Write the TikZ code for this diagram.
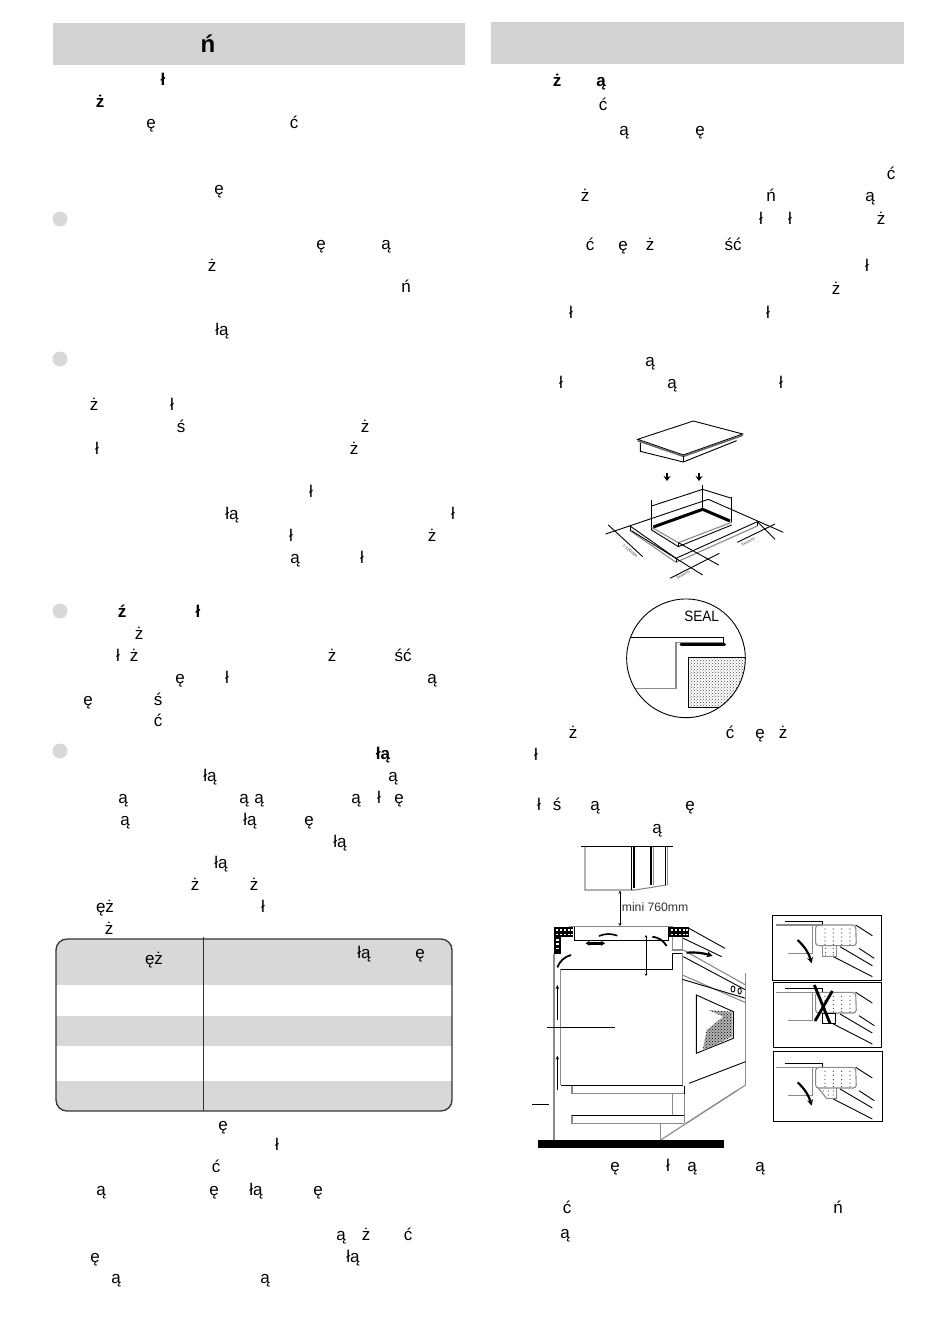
\documentclass[tikz,border=0pt]{standalone}
\usepackage{xcolor}
\usepackage{fontspec}
\setmainfont{Liberation Sans}
\usetikzlibrary{patterns,arrows.meta}
\definecolor{headgray}{HTML}{D2D2D2}
\definecolor{bandgray}{HTML}{D8D8D8}
\definecolor{wallgray}{HTML}{8A8A8A}
\tikzset{
	ch/.style={anchor=base,inner sep=0pt,yshift=-1.3pt,font=\fontsize{17}{20}\selectfont},
	chb/.style={ch,font=\fontsize{17}{20}\selectfont\bfseries},
	head/.style={fill=headgray,draw=none},
	bullet/.style={circle,fill=bandgray,draw=none,minimum size=15pt,inner sep=0pt},
	band/.style={fill=bandgray,draw=none},
	ln/.style={line width=0.9pt,black},
	gln/.style={line width=1.1pt,wallgray},
	flow/.style={line width=2.2pt,black,-{Stealth[length=6pt,width=6pt]}},
	tiny/.style={inner sep=0pt,font=\fontsize{4.5}{5}\selectfont,text=black!70}
}
\newcommand{\cornerview}{%
	\draw[ln] (60,48) -- (172,48) -- (172,60);
	\draw[gln] (32,60) -- (172,60);
	\draw[gln] (142,60) -- (142,145) -- (70,145);
	\draw[gln,rounded corners=3pt] (152,60) -- (272,60) -- (274,122) -- (152,122) -- cycle;
	\foreach \dx in {180,205,230,255}
		\foreach \dy in {72,84,96,108,118}
			\fill[black!75] (\dx,\dy) circle (1.8);
	\draw[ln] (272,60) -- (322,92);
	\draw[ln] (282,130) -- (328,160);
	\draw[ln] (225,125) -- (322,182);
	\draw[ln] (205,155) -- (322,215);
}
\begin{document}
\begin{tikzpicture}[x=1pt,y=-1pt]
	\useasboundingbox (0,0) rectangle (950,1319);
	\fill[white] (0,0) rectangle (950,1319);

	% header bars
	\fill[head] (53,23) rectangle (465,65);
	\fill[head] (491,22) rectangle (904,64);
	\node[chb,font=\fontsize{24}{26}\selectfont\bfseries] (title) at (208,51) {ń};

	% bullets
	\node[bullet] (b1) at (60,219) {};
	\node[bullet] (b2) at (60,359) {};
	\node[bullet] (b3) at (60,611) {};
	\node[bullet] (b4) at (60,751) {};

	% left column
	\node[chb] (la1) at (163,84) {ł};
	\node[chb] (la2) at (100,106) {ż};
	\node[ch] (la3) at (151,127) {ę};
	\node[ch] (la4) at (294,127) {ć};
	\node[ch] (la5) at (219,193) {ę};
	\node[ch] (la6) at (321,248) {ę};
	\node[ch] (la7) at (386,248) {ą};
	\node[ch] (la8) at (212,270) {ż};
	\node[ch] (la9) at (406,291) {ń};
	\node[ch] (la10) at (222,334) {łą};
	\node[ch] (lb1) at (94,409) {ż};
	\node[ch] (lb2) at (172,409) {ł};
	\node[ch] (lb3) at (181,431) {ś};
	\node[ch] (lb4) at (365,431) {ż};
	\node[ch] (lb5) at (97,453) {ł};
	\node[ch] (lb6) at (354,453) {ż};
	\node[ch] (lb7) at (311,496) {ł};
	\node[ch] (lb8) at (232,518) {łą};
	\node[ch] (lb9) at (453,518) {ł};
	\node[ch] (lb10) at (291,540) {ł};
	\node[ch] (lb11) at (432,540) {ż};
	\node[ch] (lb12) at (295,562) {ą};
	\node[ch] (lb13) at (362,562) {ł};
	\node[chb] (lc1) at (122,616) {ź};
	\node[chb] (lc2) at (198,616) {ł};
	\node[ch] (lc3) at (139,638) {ż};
	\node[ch] (lc4) at (118,660) {ł};
	\node[ch] (lc5) at (134,660) {ż};
	\node[ch] (lc6) at (332,660) {ż};
	\node[ch] (lc7) at (403,660) {ść};
	\node[ch] (lc8) at (180,682) {ę};
	\node[ch] (lc9) at (227,682) {ł};
	\node[ch] (lc10) at (432,682) {ą};
	\node[ch] (lc11) at (88,704) {ę};
	\node[ch] (lc12) at (158,704) {ś};
	\node[ch] (lc13) at (158,725) {ć};
	\node[chb] (ld1) at (383,758) {łą};
	\node[ch] (ld2) at (210,780) {łą};
	\node[ch] (ld3) at (393,780) {ą};
	\node[ch] (ld4) at (123,802) {ą};
	\node[ch] (ld5) at (244,802) {ą};
	\node[ch] (ld6) at (259,802) {ą};
	\node[ch] (ld7) at (356,802) {ą};
	\node[ch] (ld8) at (379,802) {ł};
	\node[ch] (ld9) at (399,802) {ę};
	\node[ch] (ld10) at (125,824) {ą};
	\node[ch] (ld11) at (250,824) {łą};
	\node[ch] (ld12) at (309,824) {ę};
	\node[ch] (ld13) at (340,846) {łą};
	\node[ch] (ld14) at (221,867) {łą};
	\node[ch] (ld15) at (195,889) {ż};
	\node[ch] (ld16) at (254,889) {ż};
	\node[ch] (ld17) at (105,911) {ęż};
	\node[ch] (ld18) at (263,911) {ł};
	\node[ch] (ld19) at (109,933) {ż};

	% table
	\begin{scope}
		\clip[rounded corners=11pt] (56,939) rectangle (452,1111);
		\fill[band] (56,939) rectangle (452,985);
		\fill[band] (56,1016) rectangle (452,1046);
		\fill[band] (56,1081) rectangle (452,1111);
	\end{scope}
	\draw[line width=1.3pt,rounded corners=11pt,black!80] (56,939) rectangle (452,1111);
	\coordinate (tabtop) at (203,937);
	\coordinate (tabbot) at (203,1111);
	\draw[line width=0.8pt,black!80] (tabtop) -- (tabbot);
	\node[ch] (ta1) at (154,963) {ęż};
	\node[ch] (ta2) at (364,957) {łą};
	\node[ch] (ta3) at (420,957) {ę};

	\node[ch] (le1) at (223,1129) {ę};
	\node[ch] (le2) at (277,1149) {ł};
	\node[ch] (le3) at (216,1171) {ć};
	\node[ch] (le4) at (101,1194) {ą};
	\node[ch] (le5) at (214,1194) {ę};
	\node[ch] (le6) at (256,1194) {łą};
	\node[ch] (le7) at (318,1194) {ę};
	\node[ch] (le8) at (341,1239) {ą};
	\node[ch] (le9) at (366,1239) {ż};
	\node[ch] (le10) at (408,1239) {ć};
	\node[ch] (le11) at (95,1261) {ę};
	\node[ch] (le12) at (353,1261) {łą};
	\node[ch] (le13) at (116,1282) {ą};
	\node[ch] (le14) at (265,1282) {ą};

	% right column
	\node[chb] (ra1) at (557,85) {ż};
	\node[chb] (ra2) at (601,85) {ą};
	\node[ch] (ra3) at (603,109) {ć};
	\node[ch] (ra4) at (624,134) {ą};
	\node[ch] (ra5) at (700,134) {ę};
	\node[ch] (ra6) at (891,178) {ć};
	\node[ch] (ra7) at (585,200) {ż};
	\node[ch] (ra8) at (771,200) {ń};
	\node[ch] (ra9) at (870,200) {ą};
	\node[ch] (ra10) at (761,223) {ł};
	\node[ch] (ra11) at (790,223) {ł};
	\node[ch] (ra12) at (881,223) {ż};
	\node[ch] (ra13) at (590,249) {ć};
	\node[ch] (ra14) at (623,249) {ę};
	\node[ch] (ra15) at (650,249) {ż};
	\node[ch] (ra16) at (733,249) {ść};
	\node[ch] (ra17) at (867,270) {ł};
	\node[ch] (ra18) at (836,293) {ż};
	\node[ch] (ra19) at (571,317) {ł};
	\node[ch] (ra20) at (768,317) {ł};
	\node[ch] (ra21) at (650,365) {ą};
	\node[ch] (ra22) at (561,387) {ł};
	\node[ch] (ra23) at (672,387) {ą};
	\node[ch] (ra24) at (781,387) {ł};
	\node[ch] (rb1) at (573,737) {ż};
	\node[ch] (rb2) at (730,737) {ć};
	\node[ch] (rb3) at (760,737) {ę};
	\node[ch] (rb4) at (783,737) {ż};
	\node[ch] (rb5) at (536,759) {ł};
	\node[ch] (rb6) at (539,809) {ł};
	\node[ch] (rb7) at (557,809) {ś};
	\node[ch] (rb8) at (595,809) {ą};
	\node[ch] (rb9) at (690,809) {ę};
	\node[ch] (rb10) at (657,832) {ą};
	\node[ch] (rc1) at (615,1170) {ę};
	\node[ch] (rc2) at (668,1170) {ł};
	\node[ch] (rc3) at (692,1170) {ą};
	\node[ch] (rc4) at (760,1170) {ą};
	\node[ch] (rc5) at (567,1212) {ć};
	\node[ch] (rc6) at (838,1212) {ń};
	\node[ch] (rc7) at (565,1237) {ą};

	% hob above the worktop, coordinates in thirds of a pixel
	\begin{scope}[shift={(560,410)},x=0.3333pt,y=-0.3333pt]
		\draw[ln,fill=white] (233,88) -- (400,33) -- (548,72) -- (370,135) -- cycle;
		\draw[line width=1.6pt,black!60] (233,92) -- (370,139) -- (548,76);
		\draw[ln] (241,98) -- (241,124) -- (370,156) -- (530,92);
		\draw[ln] (370,139) -- (370,156);
		\coordinate (a1) at (321,188);
		\coordinate (a2) at (321,213);
		\coordinate (a3) at (417,188);
		\coordinate (a4) at (417,213);
		\draw[line width=2.4pt,-{Stealth[length=5pt,width=7pt]}] (a1) -- (a2);
		\draw[line width=2.4pt,-{Stealth[length=5pt,width=7pt]}] (a3) -- (a4);
		\draw[ln] (137,372) -- (445,268) -- (670,367);
		\draw[ln] (210,348) -- (348,445) -- (592,335);
		\draw[gln] (210,362) -- (348,457) -- (592,348);
		\draw[ln] (210,348) -- (210,362);
		\draw[ln] (348,445) -- (348,457);
		\draw[ln] (592,335) -- (592,348);
		\draw[gln] (275,352) -- (355,398) -- (515,337);
		\draw[ln] (275,352) -- (275,360) -- (355,410) -- (515,345);
		\draw[ln] (355,398) -- (355,410);
		\draw[line width=3pt] (280,351) -- (428,298) -- (510,333);
		\draw[ln] (275,270) -- (275,352);
		\draw[ln] (428,225) -- (428,300);
		\draw[ln] (515,262) -- (515,335);
		\draw[ln] (275,288) -- (428,238) -- (515,265);
		\draw[ln] (145,345) -- (248,440);
		\draw[ln] (214,362) -- (428,495);
		\draw[ln] (355,398) -- (476,465);
		\draw[ln] (330,505) -- (478,430);
		\draw[ln] (532,397) -- (645,342);
		\draw[ln] (592,335) -- (645,388);
		\node[tiny,rotate=-40] (lab1) at (210,423) {7-120mm};
		\node[tiny,rotate=25] (lab2) at (369,495) {5xxmm};
		\node[tiny,rotate=25] (lab3) at (564,396) {5xxmm};

		% seal detail
		\begin{scope}
			\clip (378,745) circle (178);
			\fill[pattern=crosshatch dots,pattern color=black!70] (385,742) rectangle (560,892);
			\draw[ln] (385,742) -- (560,742);
			\draw[ln] (385,742) -- (385,892) -- (560,892);
			\draw[ln] (190,683) -- (490,683) -- (490,700);
			\draw[gln] (190,835) -- (348,835) -- (348,697) -- (490,697);
		\end{scope}
		\draw[ln] (378,745) circle (178);
		\draw[line width=3pt,line cap=round] (363,704) -- (494,704);
		\node[inner sep=0pt,font=\fontsize{15}{16}\selectfont,xscale=0.9] (seal) at (425,620) {SEAL};
	\end{scope}

	% section through the cabinet
	\begin{scope}[shift={(520,840)},x=0.3333pt,y=-0.3333pt]
		\draw[ln] (183,18) -- (460,18);
		\draw[gln] (195,20) -- (195,150) -- (345,150) -- (440,135);
		\draw[ln] (333,20) -- (333,150);
		\draw[line width=1.2pt] (342,20) -- (342,145);
		\draw[line width=1.2pt] (393,20) -- (393,135);
		\draw[gln] (400,20) -- (400,135);
		\draw[ln] (435,20) -- (435,135);
		\draw[gln] (443,20) -- (443,135);
		\coordinate (gapa) at (300,152);
		\coordinate (gapb) at (300,258);
		\draw[ln,{Stealth[length=3pt,width=3pt]}-{Stealth[length=3pt,width=3pt]}] (gapa) -- (gapb);
		\node[anchor=west,inner sep=0pt,font=\fontsize{12.2}{13}\selectfont,text=black!80] (gap) at (305,201) {mini 760mm};
		\draw[line width=1.4pt,wallgray] (148,260) -- (460,260);
		\draw[ln] (162,262) -- (162,302) -- (445,302) -- (445,262);
		\fill[black] (102,262) rectangle (160,292);
		\fill[black] (102,292) rectangle (122,342);
		\fill[black] (447,262) rectangle (507,292);
		\foreach \dx in {110,122,134,146,156}
			\foreach \dy in {270,284}
				\fill[white] (\dx-3,\dy-2) rectangle (\dx+3,\dy+2);
		\foreach \dy in {300,312,326}
			\fill[white] (108,\dy-2) rectangle (116,\dy+2);
		\foreach \dx in {455,467,479,491,501}
			\foreach \dy in {270,284}
				\fill[white] (\dx-3,\dy-2) rectangle (\dx+3,\dy+2);
		\draw[gln] (102,342) -- (102,900);
		\draw[gln] (122,388) -- (122,736);
		\draw[ln] (122,388) -- (457,388) -- (457,340) -- (487,340);
		\draw[line width=1.2pt] (122,736) -- (490,736);
		\draw[gln] (457,292) -- (457,330) -- (487,330) -- (487,292);
		\draw[gln] (487,340) -- (487,736);
		\draw[ln] (507,265) -- (615,325);
		\draw[ln] (490,295) -- (605,350);
		\draw[gln] (490,330) -- (677,435);
		\draw[ln] (490,350) -- (677,450);
		\draw[gln] (487,405) -- (677,488);
		\draw[ln] (487,418) -- (677,475);
		\draw[gln] (677,400) -- (677,735);
		\draw[ln] (507,730) -- (677,665);
		\draw[ln] (529,465) -- (640,515) -- (640,595) -- (529,640) -- cycle;
		\fill[black!30] (565,510) -- (637,515) -- (637,590) -- (548,632) -- (560,570) -- (610,530) -- cycle;
		\fill[pattern=crosshatch dots,pattern color=black] (565,510) -- (637,515) -- (637,590) -- (548,632) -- (560,570) -- (610,530) -- cycle;
		\draw[ln] (639,447) circle (6 and 9);
		\draw[ln] (659,453) circle (5 and 9);
		\draw[gln] (156,738) -- (156,761) -- (493,761) -- (493,850);
		\draw[ln] (493,738) -- (493,761);
		\draw[gln] (156,826) -- (156,851) -- (493,851);
		\draw[ln] (156,826) -- (493,826);
		\draw[gln] (457,761) -- (457,826);
		\draw[gln] (422,851) -- (422,900);
		\draw[gln] (422,900) -- (677,735);
		\draw[gln] (497,851) -- (650,752);
		\fill[black] (53,901) rectangle (612,924);
		\draw[ln] (36,792) -- (87,792);
		\coordinate (fa1) at (112,540);
		\coordinate (fa2) at (112,435);
		\coordinate (fa3) at (112,750);
		\coordinate (fa4) at (112,647);
		\draw[ln,-{Stealth[length=4pt,width=3.5pt]}] (fa1) -- (fa2);
		\draw[ln,-{Stealth[length=4pt,width=3.5pt]}] (fa3) -- (fa4);
		\draw[ln] (82,563) -- (284,563);
		\coordinate (va1) at (378,285);
		\coordinate (va2) at (378,408);
		\draw[ln,{Stealth[length=2.5pt,width=2.5pt]}-{Stealth[length=2.5pt,width=2.5pt]}] (va1) -- (va2);
		\draw[line width=1.8pt] (112,382) to[bend left=25] (153,345);
		\draw[line width=1.8pt] (397,290) to[bend left=25] (440,318);
		\draw[line width=1.6pt] (237,288) to[bend left=20] (292,287);
		\draw[flow] (500,338) to[bend left=10] (578,348);
		\draw[line width=2.4pt,{Stealth[length=4pt,width=5pt]}-{Stealth[length=4pt,width=5pt]}] (197,310) -- (255,310);
	\end{scope}

	% three small corner views
	\begin{scope}[shift={(765,905)},x=0.3333pt,y=-0.3333pt]
		\draw[line width=1pt] (22,30) rectangle (350,225);
		\cornerview
		\draw[gln] (172,122) -- (172,155) -- (215,155) -- (215,122);
		\foreach \dx in {182,205}
			\foreach \dy in {130,142,150}
				\fill[black!75] (\dx,\dy) circle (1.8);
		\draw[flow] (98,105) to[bend left=15] (140,175);
	\end{scope}
	\begin{scope}[shift={(765,905)},x=0.3333pt,y=-0.3333pt]
		\draw[line width=1pt] (25,233) rectangle (350,428);
		\begin{scope}[yshift=-202pt*0.3333]
			\cornerview
		\end{scope}
		\draw[ln] (172,325) rectangle (212,355);
		\draw[line width=2.8pt] (148,240) -- (195,355);
		\draw[line width=2.8pt] (150,348) -- (202,258);
	\end{scope}
	\begin{scope}[shift={(765,905)},x=0.3333pt,y=-0.3333pt]
		\draw[line width=1pt] (25,439) rectangle (352,650);
		\begin{scope}[yshift=-427pt*0.3333]
			\cornerview
		\end{scope}
		\draw[gln] (160,550) -- (185,580) -- (215,580) -- (215,550);
		\foreach \dx/\dy in {175/558,190/558,205/558,190/570,205/570}
			\fill[black!75] (\dx,\dy) circle (1.8);
		\draw[flow] (98,532) to[bend left=15] (140,602);
	\end{scope}
\end{tikzpicture}
\end{document}
